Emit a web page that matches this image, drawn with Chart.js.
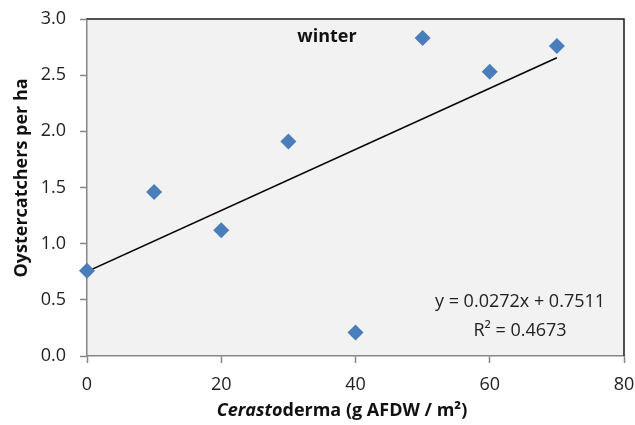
<!DOCTYPE html>
<html>
<head>
<meta charset="utf-8">
<script src="https://cdn.jsdelivr.net/npm/chart.js@4.4.0/dist/chart.umd.min.js"></script>
<style>
  html, body { margin: 0; padding: 0; background: #fff; }
  #wrap { width: 635px; height: 425px; }
</style>
</head>
<body>
<div id="wrap"><canvas id="chart" width="635" height="425"></canvas></div>
<script>
// winter: oystercatcher density vs Cerastoderma biomass
const cockleX = [0, 10, 20, 30, 40, 50, 60, 70];
const birdsY = [0.76, 1.46, 1.12, 1.91, 0.21, 2.83, 2.53, 2.76];

// trendline as labelled in the chart (y = 0.0272x + 0.7511), ends at x = 0 and x = 70
const trendX = [0, 70];
const trendY = [0.7511, 2.6551];

const xTicks = [0, 20, 40, 60, 80];
const yTicks = [0, 0.5, 1.0, 1.5, 2.0, 2.5, 3.0];

const FONT = "'Open Sans', sans-serif";
const axisGray = '#868686';

const plotDecor = {
    id: 'plotDecor',
    beforeDraw(chart) {
        const { ctx, chartArea: a } = chart;
        ctx.save();
        ctx.fillStyle = '#f2f2f2';
        ctx.fillRect(a.left, a.top, a.right - a.left, a.bottom - a.top);
        ctx.restore();
    },
    afterDatasetsDraw(chart) {
        const { ctx, chartArea: a } = chart;
        ctx.save();
        // dark frame on top and right
        ctx.strokeStyle = '#1a1a1a';
        ctx.lineWidth = 1.5;
        ctx.beginPath();
        ctx.moveTo(a.left, a.top);
        ctx.lineTo(a.right, a.top);
        ctx.lineTo(a.right, a.bottom);
        ctx.stroke();

        ctx.fillStyle = '#111';
        ctx.textBaseline = 'middle';

        // series label
        ctx.font = 'bold 18px ' + FONT;
        ctx.textAlign = 'center';
        ctx.fillText('winter', 327, 37);

        // trendline label
        ctx.font = '18px ' + FONT;
        ctx.fillStyle = '#222';
        ctx.fillText('y = 0.0272x + 0.7511', 520, 302);
        ctx.fillText('R\u00B2 = 0.4673', 520, 331);

        // x axis title, genus part in italics
        ctx.fillStyle = '#111';
        const part1 = 'Cerasto';
        const part2 = 'derma (g AFDW / m\u00B2)';
        ctx.font = 'italic bold 18px ' + FONT;
        const w1 = ctx.measureText(part1).width;
        ctx.font = 'bold 18px ' + FONT;
        const w2 = ctx.measureText(part2).width;
        const x0 = 342 - (w1 + w2) / 2;
        ctx.textAlign = 'left';
        ctx.font = 'italic bold 18px ' + FONT;
        ctx.fillText(part1, x0, 411);
        ctx.font = 'bold 18px ' + FONT;
        ctx.fillText(part2, x0 + w1, 411);

        // y axis title
        ctx.translate(22, 178);
        ctx.rotate(-Math.PI / 2);
        ctx.textAlign = 'center';
        ctx.fillText('Oystercatchers per ha', 0, 0);
        ctx.restore();
    }
};

new Chart(document.getElementById('chart'), {
    type: 'scatter',
    data: {
        datasets: [
            {
                label: 'winter',
                data: cockleX.map((x, i) => ({ x: x, y: birdsY[i] })),
                pointStyle: 'rectRot',
                pointRadius: 8,
                pointBackgroundColor: '#4a7ebb',
                pointBorderWidth: 0,
                clip: false,
                order: 1,
            },
            {
                label: 'trend',
                data: trendX.map((x, i) => ({ x: x, y: trendY[i] })),
                showLine: true,
                borderColor: '#000',
                borderWidth: 1.5,
                pointRadius: 0,
                order: 2,
            }
        ]
    },
    options: {
        responsive: false,
        animation: false,
        layout: { padding: { top: 19, right: 11, left: 0, bottom: 0 } },
        plugins: {
            legend: { display: false },
            tooltip: { enabled: false },
        },
        scales: {
            x: {
                type: 'linear',
                min: 0,
                max: 80,
                afterFit(scale) {
                    scale.height = 69;
                    scale.paddingLeft = 0;
                    scale.paddingRight = 0;
                },
                afterBuildTicks(scale) { scale.ticks = xTicks.map(v => ({ value: v })); },
                border: { color: axisGray, width: 1.5 },
                grid: { drawOnChartArea: false, drawTicks: true, tickLength: 7, tickColor: axisGray, tickWidth: 1.5 },
                ticks: { color: '#222', font: { family: FONT, size: 18 }, padding: 11 },
            },
            y: {
                min: 0,
                max: 3,
                afterFit(scale) {
                    scale.width = 87;
                    scale.paddingTop = 0;
                    scale.paddingBottom = 0;
                },
                afterBuildTicks(scale) { scale.ticks = yTicks.map(v => ({ value: v })); },
                border: { color: axisGray, width: 1.5 },
                grid: { drawOnChartArea: false, drawTicks: true, tickLength: 7, tickColor: axisGray, tickWidth: 1.5 },
                ticks: {
                    color: '#222',
                    font: { family: FONT, size: 18 },
                    padding: 14,
                    callback: v => v.toFixed(1),
                },
            }
        }
    },
    plugins: [plotDecor]
});
</script>
</body>
</html>
